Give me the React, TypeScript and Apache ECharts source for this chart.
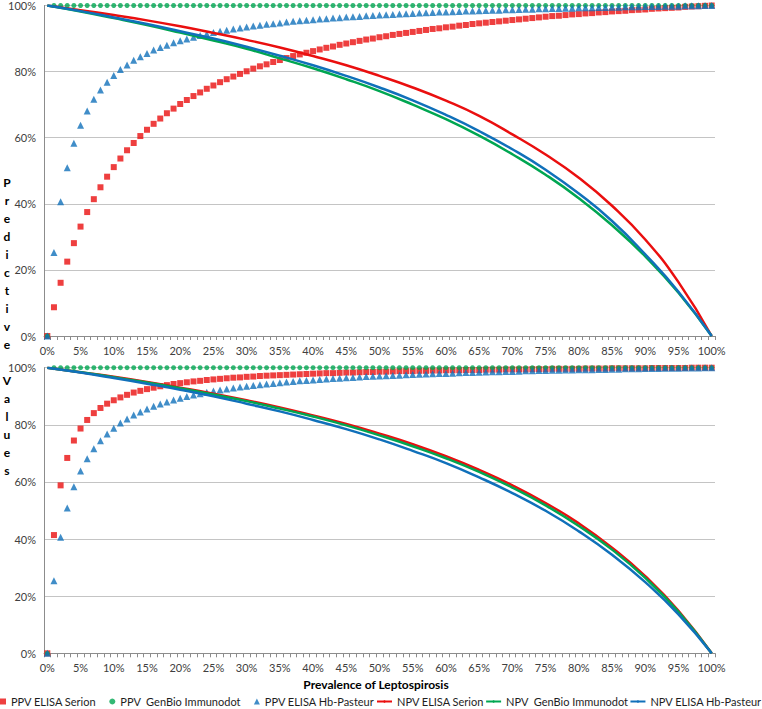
import React, { useEffect, useRef } from "react";
import * as echarts from "echarts";

// Prevalence categories 0% .. 100% (1% steps)
const PREVALENCE = Array.from({ length: 101 }, (_, i) => i + "%");
// Points where NPV curves were read (every 5%)
const NPV_X = ["0%", "5%", "10%", "15%", "20%", "25%", "30%", "35%", "40%", "45%", "50%", "55%", "60%", "65%", "70%", "75%", "80%", "85%", "90%", "95%", "100%"];
const Y_TICKS = [0, 20, 40, 60, 80, 100];

// ---- Top panel ----
const PPV_SERION_TOP = [0, 8.7, 16.1, 22.5, 28.1, 33.1, 37.5, 41.4, 45.0, 48.2, 51.1,
  53.7, 56.2, 58.4, 60.5, 62.4, 64.2, 65.8, 67.4, 68.8, 70.2,
  71.4, 72.6, 73.7, 74.8, 75.8, 76.8, 77.7, 78.5, 79.3, 80.1,
  80.9, 81.6, 82.2, 82.9, 83.5, 84.1, 84.7, 85.2, 85.7, 86.2,
  86.7, 87.2, 87.6, 88.1, 88.5, 88.9, 89.3, 89.7, 90.0, 90.4,
  90.7, 91.1, 91.4, 91.7, 92.0, 92.3, 92.6, 92.9, 93.1, 93.4,
  93.6, 93.9, 94.1, 94.4, 94.6, 94.8, 95.0, 95.2, 95.4, 95.6,
  95.8, 96.0, 96.2, 96.4, 96.6, 96.8, 96.9, 97.1, 97.3, 97.4,
  97.6, 97.7, 97.9, 98.0, 98.2, 98.3, 98.4, 98.6, 98.7, 98.8,
  99.0, 99.1, 99.2, 99.3, 99.4, 99.6, 99.7, 99.8, 99.9, 100];
const PPV_GENBIO_TOP = [0, 100, 100, 100, 100, 100, 100, 100, 100, 100, 100,
  100, 100, 100, 100, 100, 100, 100, 100, 100, 100,
  100, 100, 100, 100, 100, 100, 100, 100, 100, 100,
  100, 100, 100, 100, 100, 100, 100, 100, 100, 100,
  100, 100, 100, 100, 100, 100, 100, 100, 100, 100,
  100, 100, 100, 100, 100, 100, 100, 100, 100, 100,
  100, 100, 100, 100, 100, 100, 100, 100, 100, 100,
  100, 100, 100, 100, 100, 100, 100, 100, 100, 100,
  100, 100, 100, 100, 100, 100, 100, 100, 100, 100,
  100, 100, 100, 100, 100, 100, 100, 100, 100, 100];
const PPV_HB_TOP = [0, 25.3, 40.6, 50.9, 58.3, 63.8, 68.1, 71.6, 74.4, 76.8, 78.8,
  80.6, 82.0, 83.4, 84.5, 85.5, 86.5, 87.3, 88.0, 88.7, 89.3,
  89.9, 90.4, 90.9, 91.4, 91.8, 92.2, 92.5, 92.9, 93.2, 93.5,
  93.8, 94.0, 94.3, 94.5, 94.7, 95.0, 95.2, 95.4, 95.5, 95.7,
  95.9, 96.0, 96.2, 96.3, 96.5, 96.6, 96.7, 96.9, 97.0, 97.1,
  97.2, 97.3, 97.4, 97.5, 97.6, 97.7, 97.8, 97.9, 98.0, 98.0,
  98.1, 98.2, 98.3, 98.3, 98.4, 98.5, 98.6, 98.6, 98.7, 98.7,
  98.8, 98.9, 98.9, 99.0, 99.0, 99.1, 99.1, 99.2, 99.2, 99.3,
  99.3, 99.3, 99.4, 99.4, 99.5, 99.5, 99.6, 99.6, 99.6, 99.7,
  99.7, 99.7, 99.8, 99.8, 99.8, 99.9, 99.9, 99.9, 100.0, 100];
const NPV_SERION_TOP = [100, 98.6, 97.1, 95.5, 93.7, 91.7, 89.6, 87.3, 84.7, 81.9, 78.7, 75.2, 71.2, 66.6, 61.0, 54.9, 47.9, 39.4, 29.2, 16.3, 0];
const NPV_GENBIO_TOP = [100, 98.2, 96.2, 94.1, 91.8, 89.4, 86.9, 84.0, 81.0, 77.7, 74.1, 70.0, 65.6, 60.6, 55.0, 48.8, 41.7, 33.5, 24.1, 13.1, 0];
const NPV_HB_TOP = [100, 98.3, 96.4, 94.4, 92.2, 90.0, 87.5, 84.8, 81.9, 78.7, 75.2, 71.3, 66.9, 62.0, 56.5, 50.3, 43.1, 34.8, 24.7, 13.4, 0];

// ---- Bottom panel ----
const PPV_SERION_BOT = [0, 41.4, 58.8, 68.4, 74.5, 78.7, 81.7, 84.1, 85.9, 87.4, 88.6,
  89.6, 90.5, 91.3, 91.9, 92.5, 93.0, 93.5, 93.9, 94.3, 94.6,
  94.9, 95.2, 95.4, 95.7, 95.9, 96.1, 96.3, 96.5, 96.6, 96.8,
  96.9, 97.1, 97.2, 97.3, 97.4, 97.5, 97.6, 97.7, 97.8, 97.9,
  98.0, 98.1, 98.1, 98.2, 98.3, 98.3, 98.4, 98.5, 98.5, 98.6,
  98.6, 98.7, 98.8, 98.8, 98.8, 98.9, 98.9, 99.0, 99.0, 99.1,
  99.1, 99.1, 99.2, 99.2, 99.2, 99.3, 99.3, 99.3, 99.4, 99.4,
  99.4, 99.4, 99.5, 99.5, 99.5, 99.6, 99.6, 99.6, 99.6, 99.6,
  99.7, 99.7, 99.7, 99.7, 99.8, 99.8, 99.8, 99.8, 99.8, 99.8,
  99.9, 99.9, 99.9, 99.9, 99.9, 99.9, 100.0, 100.0, 100.0, 100];
const PPV_GENBIO_BOT = [0, 100, 100, 100, 100, 100, 100, 100, 100, 100, 100,
  100, 100, 100, 100, 100, 100, 100, 100, 100, 100,
  100, 100, 100, 100, 100, 100, 100, 100, 100, 100,
  100, 100, 100, 100, 100, 100, 100, 100, 100, 100,
  100, 100, 100, 100, 100, 100, 100, 100, 100, 100,
  100, 100, 100, 100, 100, 100, 100, 100, 100, 100,
  100, 100, 100, 100, 100, 100, 100, 100, 100, 100,
  100, 100, 100, 100, 100, 100, 100, 100, 100, 100,
  100, 100, 100, 100, 100, 100, 100, 100, 100, 100,
  100, 100, 100, 100, 100, 100, 100, 100, 100, 100];
const PPV_HB_BOT = [0, 25.4, 40.6, 50.9, 58.3, 63.8, 68.1, 71.6, 74.4, 76.8, 78.8,
  80.6, 82.0, 83.4, 84.5, 85.5, 86.5, 87.3, 88.0, 88.7, 89.3,
  89.9, 90.4, 90.9, 91.4, 91.8, 92.2, 92.5, 92.9, 93.2, 93.5,
  93.8, 94.0, 94.3, 94.5, 94.7, 95.0, 95.2, 95.4, 95.5, 95.7,
  95.9, 96.0, 96.2, 96.3, 96.5, 96.6, 96.7, 96.9, 97.0, 97.1,
  97.2, 97.3, 97.4, 97.5, 97.6, 97.7, 97.8, 97.9, 98.0, 98.0,
  98.1, 98.2, 98.3, 98.3, 98.4, 98.5, 98.6, 98.6, 98.7, 98.7,
  98.8, 98.9, 98.9, 99.0, 99.0, 99.1, 99.1, 99.2, 99.2, 99.3,
  99.3, 99.3, 99.4, 99.4, 99.5, 99.5, 99.6, 99.6, 99.6, 99.7,
  99.7, 99.7, 99.8, 99.8, 99.8, 99.9, 99.9, 99.9, 100.0, 100];
const NPV_SERION_BOT = [100, 98.4, 96.8, 95.0, 93.0, 90.9, 88.6, 86.1, 83.3, 80.3, 76.9, 73.2, 69.0, 64.2, 58.8, 52.6, 45.5, 37.0, 27.0, 14.9, 0];
const NPV_GENBIO_BOT = [100, 98.4, 96.7, 94.8, 92.8, 90.6, 88.3, 85.7, 82.9, 79.8, 76.3, 72.5, 68.3, 63.5, 58.0, 51.8, 44.6, 36.3, 26.4, 14.5, 0];
const NPV_HB_BOT = [100, 98.3, 96.4, 94.4, 92.3, 90.0, 87.4, 84.7, 81.7, 78.5, 74.9, 70.9, 66.6, 61.6, 56.1, 49.9, 42.7, 34.5, 24.9, 13.6, 0];

const NAMES = {
  ppvSerion: "PPV ELISA Serion",
  ppvGenbio: "PPV  GenBio Immunodot",
  ppvHb: "PPV ELISA Hb-Pasteur",
  npvSerion: "NPV ELISA Serion",
  npvGenbio: "NPV  GenBio Immunodot",
  npvHb: "NPV ELISA Hb-Pasteur",
};

const RED = "#EA0F0F";
const GREEN = "#00A651";
const BLUE = "#1070BA";
const FONT = "Lato";

function npvPairs(vals: number[]) {
  return NPV_X.map((x, i) => [x, vals[i]]);
}

function lineSeries(base: any, name: string, vals: number[], color: string) {
  return {
    ...base,
    type: "line",
    name,
    data: npvPairs(vals),
    symbol: "none",
    showSymbol: false,
    smooth: true,
    lineStyle: { color, width: 2.5 },
    itemStyle: { color },
  };
}

function panelSeries(idx: number, ppv: number[][], npv: number[][]) {
  const base = { xAxisIndex: idx, yAxisIndex: idx };
  return [
    { ...base, type: "scatter", name: NAMES.ppvSerion, data: ppv[0], symbol: "rect", symbolSize: 6, itemStyle: { color: RED } },
    { ...base, type: "scatter", name: NAMES.ppvGenbio, data: ppv[1], symbol: "circle", symbolSize: 5, itemStyle: { color: GREEN } },
    { ...base, type: "scatter", name: NAMES.ppvHb, data: ppv[2], symbol: "triangle", symbolSize: 7, itemStyle: { color: BLUE } },
    lineSeries(base, NAMES.npvSerion, npv[0], RED),
    lineSeries(base, NAMES.npvGenbio, npv[1], GREEN),
    lineSeries(base, NAMES.npvHb, npv[2], BLUE),
  ];
}

function xAxis(gridIndex: number) {
  return {
    type: "category",
    gridIndex,
    data: PREVALENCE,
    boundaryGap: true,
    axisLine: { show: true, lineStyle: { color: "#8C8C8C", width: 1 } },
    axisTick: { show: true, interval: 0, length: 4, lineStyle: { color: "#8C8C8C" } },
    axisLabel: { interval: 4, fontFamily: FONT, fontSize: 11, color: "#404040", margin: 9 },
    splitLine: { show: false },
  };
}

function yAxis(gridIndex: number) {
  return {
    type: "value",
    gridIndex,
    min: Y_TICKS[0],
    max: Y_TICKS[Y_TICKS.length - 1],
    interval: 20,
    axisLine: { show: true, lineStyle: { color: "#8C8C8C", width: 1 } },
    axisTick: { show: false },
    axisLabel: { formatter: "{value}%", fontFamily: FONT, fontSize: 11, color: "#404040", margin: 8 },
    splitLine: { show: true, lineStyle: { color: "#C4C4C4", width: 1 } },
  };
}

const legendText = { fontFamily: FONT, fontSize: 11, color: "#1E1E1E" };

export default function App() {
  const ref = useRef<HTMLDivElement>(null);
  useEffect(() => {
    if (!ref.current) return;
    const chart = echarts.init(ref.current, null, { renderer: "svg" });
    const option = {
      animation: false,
      backgroundColor: "#ffffff",
      grid: [
        { left: 44, width: 671, top: 4.7, height: 331.3 },
        { left: 44, width: 671, top: 367.7, height: 285.6 },
      ],
      xAxis: [xAxis(0), xAxis(1)],
      yAxis: [yAxis(0), yAxis(1)],
      legend: [
        {
          data: [NAMES.ppvSerion, NAMES.ppvGenbio, NAMES.ppvHb],
          left: 0,
          top: 696,
          width: 380,
          padding: 0,
          itemWidth: 6,
          itemHeight: 6,
          itemGap: 13,
          selectedMode: false,
          textStyle: legendText,
        },
        {
          data: [NAMES.npvSerion, NAMES.npvGenbio, NAMES.npvHb],
          left: 376,
          top: 696,
          width: 386,
          padding: 0,
          itemWidth: 15,
          itemHeight: 3,
          itemGap: 1,
          selectedMode: false,
          textStyle: legendText,
        },
      ],
      graphic: [
        {
          type: "text",
          x: 376,
          y: 684,
          style: {
            text: "Prevalence of Leptospirosis",
            fontFamily: FONT,
            fontSize: 12,
            fontWeight: "bold",
            fill: "#000",
            align: "center",
            verticalAlign: "middle",
          },
        },
        {
          type: "text",
          x: 7,
          y: 173,
          style: {
            text: "P\nr\ne\nd\ni\nc\nt\ni\nv\ne\n \nV\na\nl\nu\ne\ns",
            fontFamily: FONT,
            fontSize: 12,
            fontWeight: "bold",
            lineHeight: 18,
            fill: "#000",
            align: "center",
            verticalAlign: "top",
          },
        },
      ],
      series: [
        ...panelSeries(0, [PPV_SERION_TOP, PPV_GENBIO_TOP, PPV_HB_TOP], [NPV_SERION_TOP, NPV_GENBIO_TOP, NPV_HB_TOP]),
        ...panelSeries(1, [PPV_SERION_BOT, PPV_GENBIO_BOT, PPV_HB_BOT], [NPV_SERION_BOT, NPV_GENBIO_BOT, NPV_HB_BOT]),
      ],
    };
    chart.setOption(option as any);
    return () => chart.dispose();
  }, []);
  return <div ref={ref} style={{ width: 762, height: 709, position: "absolute", left: 0, top: 0 }} />;
}
